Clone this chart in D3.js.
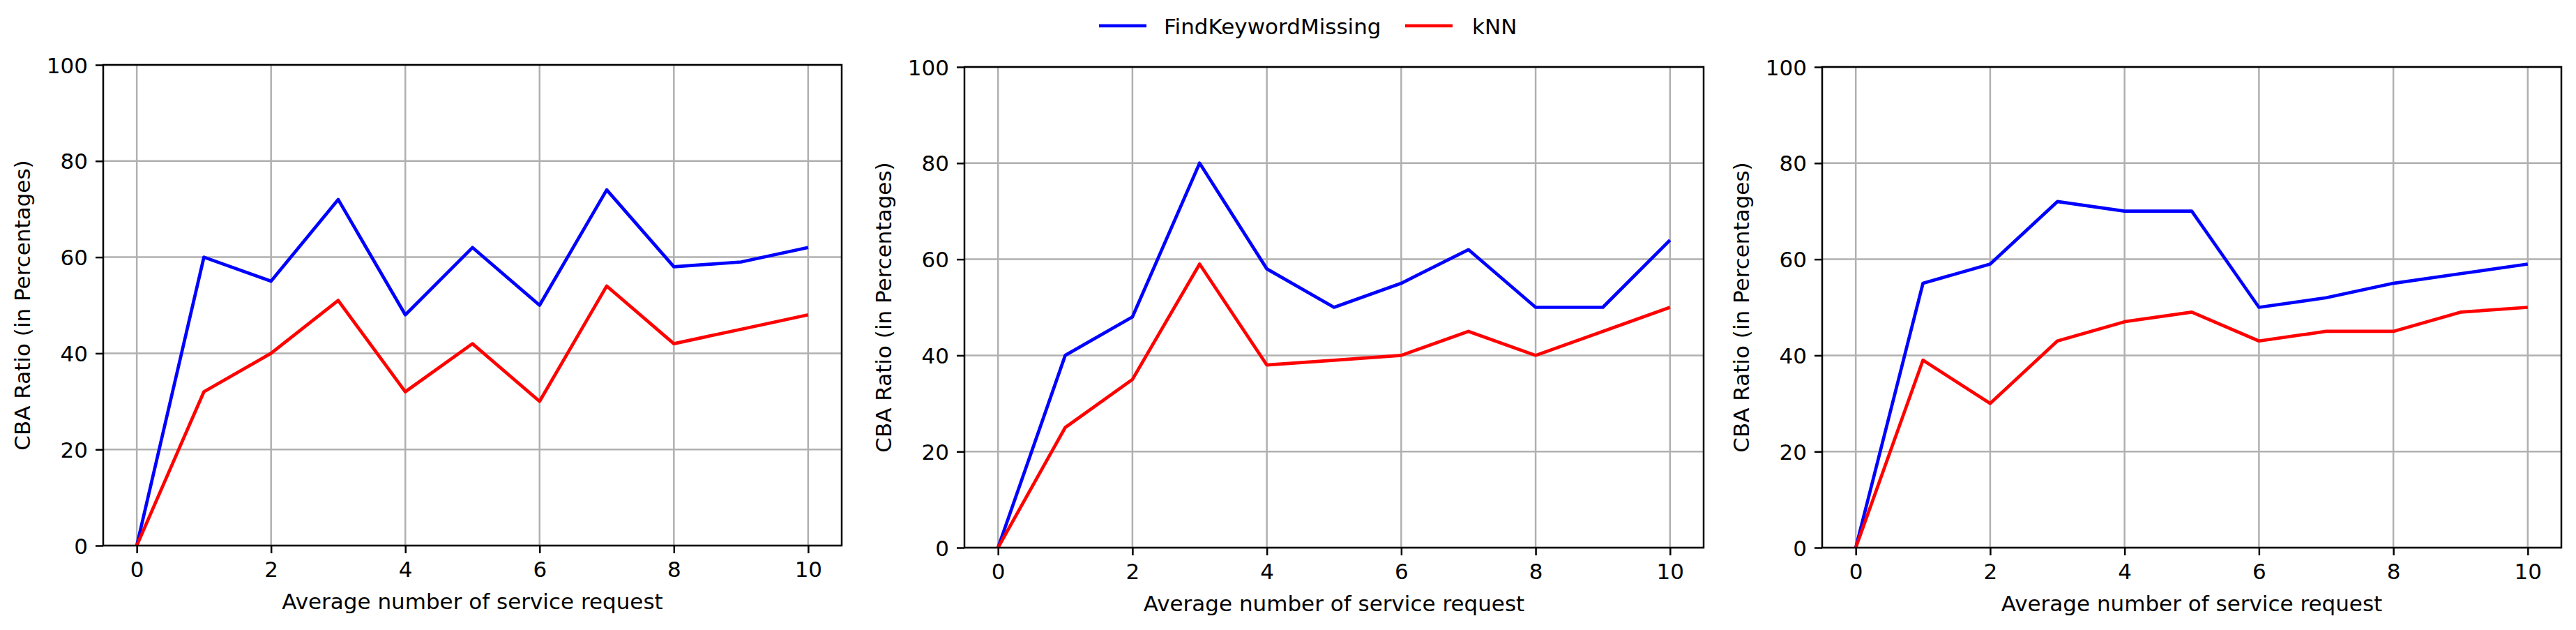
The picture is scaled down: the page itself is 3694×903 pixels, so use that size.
<!DOCTYPE html>
<html>
<head>
<meta charset="utf-8">
<script src="https://cdn.jsdelivr.net/npm/d3@7"></script>
<style>
  html, body { margin: 0; padding: 0; background: #fff; }
  svg { display: block; }
  text { font-family: "DejaVu Sans", sans-serif; fill: #000; }
</style>
</head>
<body>
<svg id="chart" width="3694" height="903"></svg>
<script>
// ---- data ----
const xValues = [0, 1, 2, 3, 4, 5, 6, 7, 8, 9, 10];
const xTicks = [0, 2, 4, 6, 8, 10];
const yTicks = [0, 20, 40, 60, 80, 100];
const seriesNames = ["FindKeywordMissing", "kNN"];
const seriesColors = ["#0000ff", "#ff0000"];

const fkmPanel1 = [0, 60, 55, 72, 48, 62, 50, 74, 58, 59, 62];
const knnPanel1 = [0, 32, 40, 51, 32, 42, 30, 54, 42, 45, 48];
const fkmPanel2 = [0, 40, 48, 80, 58, 50, 55, 62, 50, 50, 64];
const knnPanel2 = [0, 25, 35, 59, 38, 39, 40, 45, 40, 45, 50];
const fkmPanel3 = [0, 55, 59, 72, 70, 70, 50, 52, 55, 57, 59];
const knnPanel3 = [0, 39, 30, 43, 47, 49, 43, 45, 45, 49, 50];

const xLabel = "Average number of service request";
const yLabel = "CBA Ratio (in Percentages)";

// ---- layout ----
const panels = [
  { left: 148,  right: 1207, top: 93, bottom: 782, series: [fkmPanel1, knnPanel1] },
  { left: 1383, right: 2443, top: 96, bottom: 785, series: [fkmPanel2, knnPanel2] },
  { left: 2613, right: 3673, top: 96, bottom: 785, series: [fkmPanel3, knnPanel3] }
];
const FS = 31;
const tickLen = 11, tickPad = 11;

const svg = d3.select("#chart");
svg.append("rect").attr("width", 3694).attr("height", 903).attr("fill", "#fff");

panels.forEach(p => {
  const x = d3.scaleLinear().domain([-0.5, 10.5]).range([p.left, p.right]);
  const y = d3.scaleLinear().domain([0, 100]).range([p.bottom, p.top]);
  const g = svg.append("g");

  // grid
  g.selectAll(".gx").data(xTicks).enter().append("line")
    .attr("x1", d => x(d)).attr("x2", d => x(d))
    .attr("y1", p.top).attr("y2", p.bottom)
    .attr("stroke", "#b0b0b0").attr("stroke-width", 2.5);
  g.selectAll(".gy").data(yTicks).enter().append("line")
    .attr("x1", p.left).attr("x2", p.right)
    .attr("y1", d => y(d)).attr("y2", d => y(d))
    .attr("stroke", "#b0b0b0").attr("stroke-width", 2.5);

  // lines
  const line = d3.line().x((d, i) => x(xValues[i])).y(d => y(d));
  p.series.forEach((s, si) => {
    g.append("path").datum(s)
      .attr("d", line)
      .attr("fill", "none")
      .attr("stroke", seriesColors[si])
      .attr("stroke-width", 4.7)
      .attr("stroke-linejoin", "round")
      .attr("stroke-linecap", "butt");
  });

  // axes with d3
  const xAxis = d3.axisBottom(x).tickValues(xTicks).tickSize(tickLen).tickPadding(tickPad).tickSizeOuter(0);
  const yAxis = d3.axisLeft(y).tickValues(yTicks).tickSize(tickLen).tickPadding(tickPad).tickSizeOuter(0);

  const gx = g.append("g").attr("transform", `translate(0,${p.bottom})`).call(xAxis);
  const gy = g.append("g").attr("transform", `translate(${p.left},0)`).call(yAxis);
  [gx, gy].forEach(a => {
    a.select(".domain").remove();
    a.selectAll(".tick line").attr("stroke", "#000").attr("stroke-width", 2.5);
    a.selectAll(".tick text").attr("font-family", "DejaVu Sans").attr("font-size", FS).attr("fill", "#000");
  });
  gx.selectAll(".tick text").attr("dy", null).attr("y", 0)
    .attr("transform", `translate(0,${tickLen + tickPad + 23})`);
  gy.selectAll(".tick text").attr("dy", "0.36em");

  // spines
  g.append("rect")
    .attr("x", p.left).attr("y", p.top)
    .attr("width", p.right - p.left).attr("height", p.bottom - p.top)
    .attr("fill", "none").attr("stroke", "#000").attr("stroke-width", 2.5);

  // labels
  g.append("text")
    .attr("x", (p.left + p.right) / 2).attr("y", p.bottom + 91)
    .attr("text-anchor", "middle").attr("font-size", FS)
    .text(xLabel);
  g.append("text")
    .attr("transform", `translate(${p.left - 116},${(p.top + p.bottom) / 2}) rotate(-90)`)
    .attr("text-anchor", "middle").attr("dy", "0.36em").attr("font-size", FS)
    .text(yLabel);
});

// legend
const legendItems = [
  { name: seriesNames[0], color: seriesColors[0], x0: 1576, x1: 1644, tx: 1669 },
  { name: seriesNames[1], color: seriesColors[1], x0: 2015, x1: 2083, tx: 2111 }
];
const lg = svg.append("g");
legendItems.forEach(it => {
  lg.append("line").attr("x1", it.x0).attr("x2", it.x1).attr("y1", 37).attr("y2", 37)
    .attr("stroke", it.color).attr("stroke-width", 4.7);
  lg.append("text").attr("x", it.tx).attr("y", 49).attr("font-size", FS).text(it.name);
});
</script>
</body>
</html>
